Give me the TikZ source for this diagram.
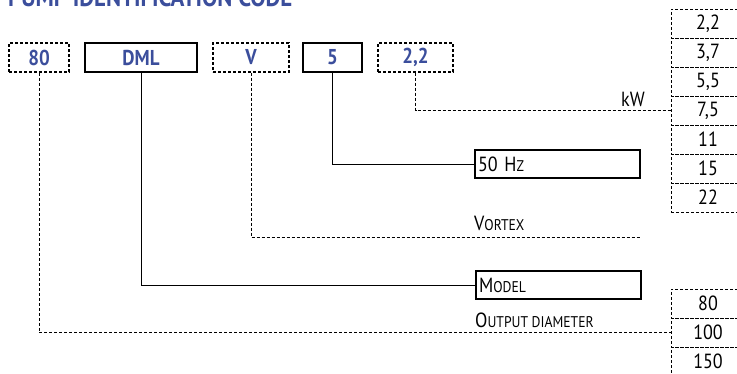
\documentclass[tikz,border=0pt]{standalone}
\usepackage{fontspec}
\setmainfont{PT Sans}[FakeStretch=0.88]
\usetikzlibrary{positioning}

\definecolor{codeblue}{HTML}{3B4E9C}
\newcommand{\regsize}{\fontsize{20.5}{24}\selectfont}
\newcommand{\scsize}{\fontsize{15.5}{18}\selectfont}
\newcommand{\smallcap}[2]{#1{\scsize #2}}

\tikzset{
  codebox/.style={draw, line width=1.3pt, minimum height=29pt, inner sep=0pt,
                  font=\bfseries\fontsize{21.5}{24}\selectfont, text=codeblue},
  dashbox/.style={codebox, dash pattern=on 3pt off 2pt},
  listbox/.style={draw, line width=1pt, dash pattern=on 3pt off 2pt,
                  minimum width=74pt, minimum height=29pt, inner sep=0pt, font=\regsize},
  namebox/.style={draw, line width=1.2pt, text width=159pt, minimum height=28pt,
                  inner sep=3pt, align=left, font=\regsize},
  lbl/.style={inner sep=0pt, anchor=base west, font=\regsize},
  solidline/.style={line width=1pt},
  dashline/.style={line width=1pt, dash pattern=on 3pt off 2pt}
}

\begin{document}
\begin{tikzpicture}[x=1pt, y=-1pt]
  \useasboundingbox (0,0) rectangle (737,373);

  % title, cut at the top edge
  \node (title) [anchor=base west, inner sep=0pt, text=codeblue,
    font=\bfseries\fontsize{26}{28}\selectfont] at (8,6.5) {PUMP IDENTIFICATION CODE};

  % code fields
  \node (c80)  [dashbox, minimum width=60pt]  at (39,57.5)    {80};
  \node (cdml) [codebox, minimum width=112pt] at (141,57.5)   {DML};
  \node (cv)   [dashbox, minimum width=76pt]  at (251,57.5)   {V};
  \node (c5)   [codebox, minimum width=59pt]  at (332.5,57.5) {5};
  \node (ckw)  [dashbox, minimum width=75pt]  at (415.5,57.5) {2,2};

  % power list
  \foreach \pw [count=\i] in {{2,2},{3,7},{5,5},{7,5},11,15,22}
    \node (kw\i) [listbox] at (708,{29*\i-5.5}) {\pw};

  % diameter list
  \foreach \dia [count=\i] in {80,100,150}
    \node (dn\i) [listbox] at (708,{274.5+29*\i}) {\dia};

  % meaning boxes
  \node (hz)    [namebox] at (557.5,164) {50 H{\scsize Z}};
  \node (model) [namebox] at (558.5,285) {\smallcap{M}{ODEL}};
  \coordinate (vend) at (640,237);

  \draw [dashline]  (c80.south)  |- (dn2.west);
  \draw [solidline] (cdml.south) |- (model.west);
  \draw [dashline]  (cv.south)   |- (vend);
  \draw [solidline] (c5.south)   |- (hz.west);
  \draw [dashline]  (ckw.south)  |- (kw4.west);

  \node (kwlbl)  [lbl, anchor=base east] at (645,106) {kW};
  \node (vortex) [lbl] at (474,230) {\smallcap{V}{ORTEX}};
  \node (outdia) [lbl] at (475,327) {\smallcap{O}{UTPUT DIAMETER}};
\end{tikzpicture}
\end{document}
